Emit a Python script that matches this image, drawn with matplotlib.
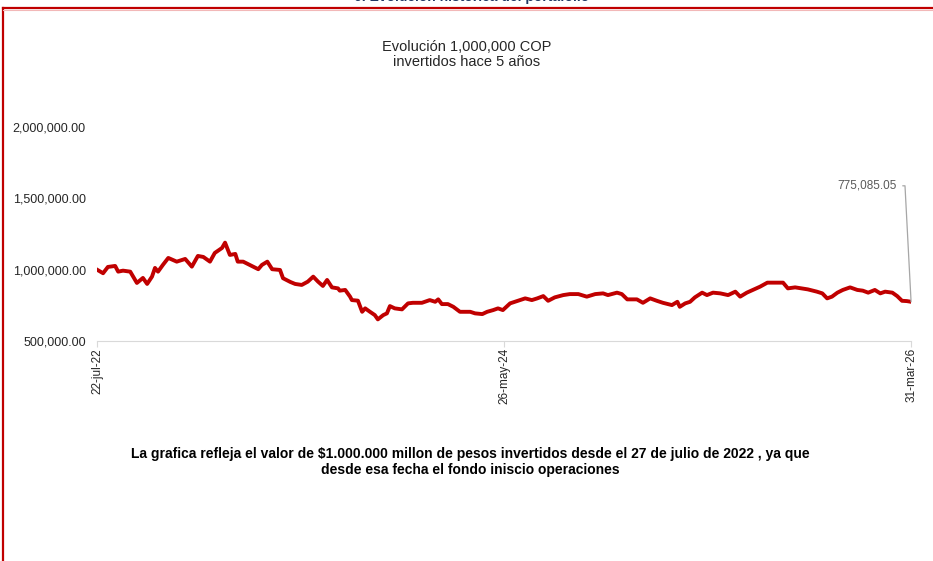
import numpy as np
import matplotlib
matplotlib.use("Agg")
from matplotlib import pyplot as plt

plt.rcParams['font.family'] = ['Liberation Sans', 'DejaVu Sans']

# valor de 1,000,000 COP invertidos
start_date = np.datetime64("2022-07-22")
day_offset = [0, 10, 18, 30, 35, 43, 55, 66, 76, 83, 91, 96, 101, 109, 118, 132, 146, 157, 167, 176,
              187, 195, 207, 212, 220, 229, 233, 242, 253, 267, 273, 282, 290, 303, 308, 320, 328, 339,
              349, 358, 366, 374, 381, 389, 399, 402, 411, 419, 422, 432, 439, 444, 452, 460, 465, 474,
              480, 485, 493, 505, 515, 523, 538, 551, 560, 565, 571, 581, 590, 601, 618, 626, 638, 646,
              656, 664, 672, 684, 697, 709, 720, 729, 739, 747, 758, 772, 783, 797, 811, 825, 838, 846,
              861, 869, 878, 894, 904, 916, 927, 937, 952, 961, 965, 974, 982, 990, 1002, 1010, 1020,
              1032, 1045, 1057, 1065, 1076, 1086, 1098, 1110, 1123, 1136, 1144, 1156, 1167, 1177, 1192,
              1201, 1209, 1217, 1226, 1235, 1247, 1259, 1268, 1277, 1288, 1297, 1305, 1317, 1325, 1333,
              1341, 1348]
values = [1000000, 975000, 1019000, 1026000, 986000, 993000, 986000, 907000, 942000, 900000, 951000,
          1012000, 986000, 1033000, 1082000, 1056000, 1075000, 1021000, 1096000, 1089000, 1056000,
          1117000, 1152000, 1189000, 1103000, 1110000, 1056000, 1056000, 1033000, 1003000, 1033000,
          1056000, 1003000, 998000, 940000, 914000, 900000, 893000, 916000, 951000, 916000, 886000,
          928000, 876000, 869000, 853000, 858000, 811000, 787000, 783000, 705000, 729000, 705000,
          682000, 652000, 682000, 694000, 745000, 729000, 722000, 764000, 768000, 768000, 787000,
          775000, 792000, 759000, 759000, 740000, 705000, 705000, 694000, 689000, 705000, 717000,
          729000, 717000, 764000, 782000, 799000, 787000, 799000, 815000, 782000, 806000, 822000,
          829000, 829000, 811000, 829000, 834000, 822000, 839000, 829000, 792000, 792000, 768000,
          799000, 782000, 768000, 752000, 775000, 740000, 764000, 775000, 806000, 839000, 822000,
          839000, 834000, 822000, 846000, 811000, 839000, 858000, 881000, 909000, 909000, 909000,
          869000, 876000, 869000, 862000, 846000, 834000, 799000, 811000, 839000, 858000, 876000,
          858000, 853000, 839000, 858000, 834000, 846000, 839000, 815000, 782000, 780000, 775085.05]

tick_dates = ["2022-07-22", "2024-05-26", "2026-03-31"]
tick_labels = ["22-jul-22", "26-may-24", "31-mar-26"]
y_ticks = [500000, 1000000, 1500000, 2000000]

dates = start_date + np.array(day_offset).astype("timedelta64[D]")

fig = plt.figure(figsize=(9.33, 5.61), dpi=100)

# marco rojo del informe
fig.add_artist(plt.Line2D([0.0035, 0.0035], [0, 0.986], color="#c00000", lw=1.6))
fig.add_artist(plt.Line2D([0.0035, 1], [0.986, 0.986], color="#c00000", lw=1.6))
fig.add_artist(plt.Line2D([0.0035, 1], [0.982, 0.982], color="#f2b8b8", lw=0.8))
fig.text(0.505, 1.006, "6. Evolución histórica del portafolio", ha="center", va="center",
         fontsize=10, fontweight="bold", color="#1f3864")

ax = fig.add_axes([0.104, 0.392, 0.8725, 0.382])
ax.plot(dates, values, color="#c00000", lw=2.8, solid_joinstyle="round")

ax.set_xlim(np.datetime64(tick_dates[0]), np.datetime64(tick_dates[-1]))
ax.set_ylim(500000, 2000000)
ax.set_yticks(y_ticks)
ax.set_yticklabels([f"{v:,.2f}" for v in y_ticks])
ax.set_xticks([np.datetime64(d) for d in tick_dates])
ax.set_xticklabels(tick_labels, rotation=90)

for s in ["top", "right", "left"]:
    ax.spines[s].set_visible(False)
ax.spines["bottom"].set_color("#d9d9d9")
ax.tick_params(axis="y", length=0, pad=8, labelsize=9, labelcolor="#262626")
ax.tick_params(axis="x", length=4, color="#d9d9d9", pad=1, labelsize=8.5, labelcolor="#262626")

ax.annotate(f"{values[-1]:,.2f}", xy=(dates[-1], values[-1]), xytext=(-10, 83.5),
            textcoords="offset points", ha="right", va="center", fontsize=8.5, color="#595959",
            arrowprops=dict(arrowstyle="-", color="#a6a6a6", lw=0.9, shrinkA=2, shrinkB=0,
                            connectionstyle="angle,angleA=0,angleB=93,rad=0"))

fig.text(0.5, 0.903, "Evolución 1,000,000 COP\ninvertidos hace 5 años", ha="center", va="center",
         fontsize=10.5, color="#262626", linespacing=1.05)

fig.text(0.504, 0.177, "La grafica refleja el valor de $1.000.000 millon de pesos invertidos desde el 27 de julio de 2022 , ya que\n"
         "desde esa fecha el fondo iniscio operaciones", ha="center", va="center",
         fontsize=10, fontweight="bold", color="#000000", linespacing=1.2)

plt.savefig("out.png", dpi=100)
